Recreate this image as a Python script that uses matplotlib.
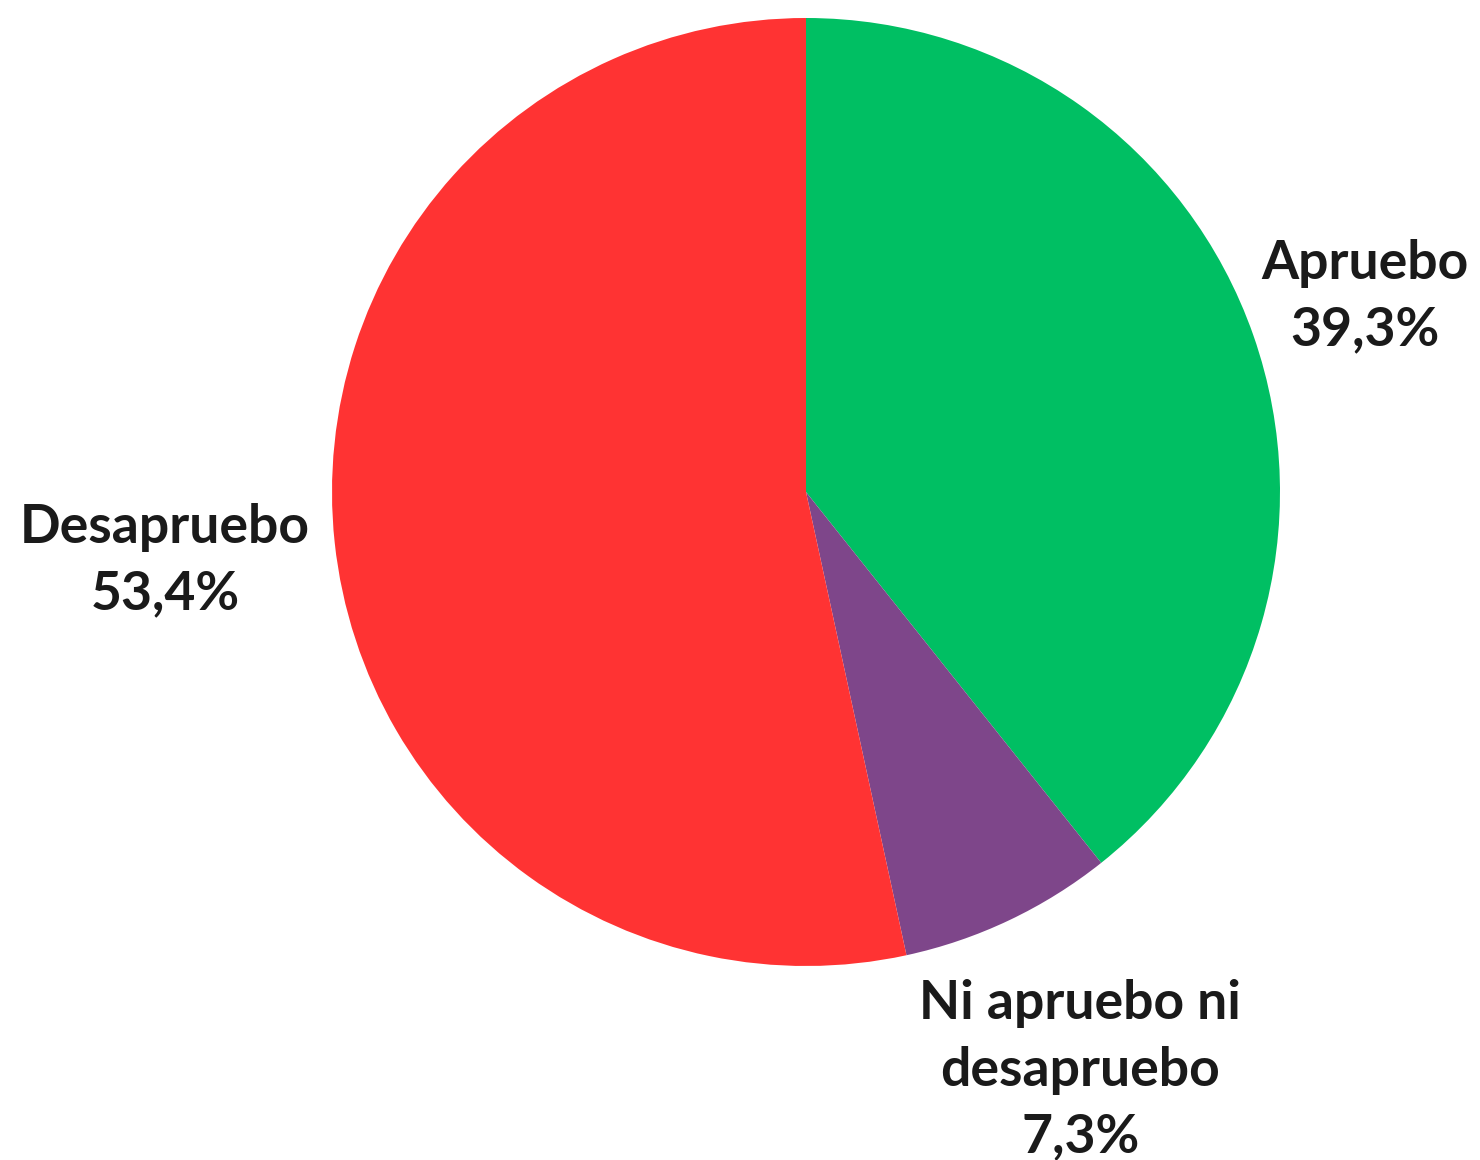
import numpy as np
import matplotlib.pyplot as plt

labels = ["Apruebo", "Ni apruebo ni\ndesapruebo", "Desapruebo"]
values = [39.3, 7.3, 53.4]
colors = ["#00BF63", "#7E468A", "#FF3333"]
label_dist = [1.25, 1.35, 1.36]

plt.rcParams['font.family'] = ['Lato', 'DejaVu Sans']

fig = plt.figure(figsize=(14.8, 11.6), dpi=100)
ax = fig.add_axes([332 / 1480, 194 / 1160, 948 / 1480, 948 / 1160])
wedges, _ = ax.pie(values, colors=colors, startangle=90, counterclock=False,
                   radius=1, wedgeprops=dict(linewidth=0))
ax.set_xlim(-1, 1)
ax.set_ylim(-1, 1)
ax.set_aspect('equal')
ax.axis('off')

for w, lab, v, d in zip(wedges, labels, values, label_dist):
    ang = np.deg2rad((w.theta1 + w.theta2) / 2)
    txt = lab + "\n" + f"{v:.1f}".replace(".", ",") + "%"
    ax.text(d * np.cos(ang), d * np.sin(ang), txt, ha='center', va='center',
            fontsize=38.5, fontweight='bold', color='#1a1a1a', linespacing=1.45,
            clip_on=False)

fig.savefig("out.png", dpi=100)
